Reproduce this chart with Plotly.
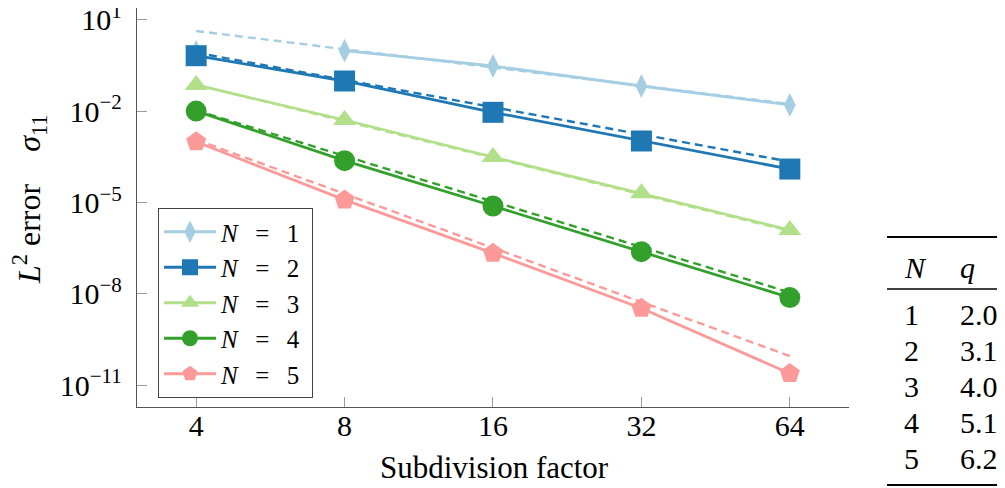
import plotly.graph_objects as go

# ---------------- data ----------------
subdiv = [4, 8, 16, 32, 64]
tick_x_labels = ["4", "8", "16", "32", "64"]

err_N1 = [0.891, 0.980, 0.308, 0.0679, 0.0162]
err_N2 = [0.671, 0.0991, 0.00927, 0.00106, 1.27e-4]
err_N3 = [0.0733, 0.00519, 3.16e-4, 2.04e-5, 1.26e-6]
err_N4 = [0.0102, 2.40e-4, 7.76e-6, 2.45e-7, 7.59e-9]
err_N5 = [1.0e-3, 1.23e-5, 2.19e-7, 3.39e-9, 2.45e-11]

# dashed fitted-rate lines: values at the first and last subdivision factor
fit_x = [4, 64]
fit_N1 = [4.36, 0.0174]
fit_N2 = [0.843, 2.22e-4]
fit_N3 = [0.0759, 1.17e-6]
fit_N4 = [0.0107, 1.12e-8]
fit_N5 = [1.17e-3, 9.1e-11]

y_tick_vals = [1e1, 1e-2, 1e-5, 1e-8, 1e-11]
y_tick_labels = ["10<sup>1</sup>", "10<sup>−2</sup>", "10<sup>−5</sup>",
                 "10<sup>−8</sup>", "10<sup>−11</sup>"]

table_N = ["1", "2", "3", "4", "5"]
table_q = ["2.0", "3.1", "4.0", "5.1", "6.2"]

series_labels = ["1", "2", "3", "4", "5"]

# ---------------- styling ----------------
FONT = "Liberation Serif, Times New Roman, serif"
FS = 30
LFS = 25
colors = ["#a6cee3", "#1f78b4", "#b2df8a", "#33a02c", "#fb9a99"]
symbols = ["diamond-tall", "square", "triangle-up", "circle", "pentagon"]
msizes = [17, 21, 20, 21, 21]
errs = [err_N1, err_N2, err_N3, err_N4, err_N5]
fits = [fit_N1, fit_N2, fit_N3, fit_N4, fit_N5]

# the page body has an 8px margin, so figure pixel = page pixel - 8
OFF = 8
W, H = 1005, 488
ML, MR, MT, MB = 137 - OFF, W - (849 - OFF), 0, H - (407 - OFF)
PW = W - ML - MR
PH = H - MT - MB


def px_x(page_px):
    return (page_px - OFF - ML) / PW


def px_y(page_py):
    return 1 - (page_py - OFF - MT) / PH


fig = go.Figure()

SP = "\u2002\u2009"  # en + thin space, to mimic the math spacing around "="

for i in range(5):
    c = colors[i]
    # dashed fitted line
    fig.add_trace(go.Scatter(
        x=fit_x, y=fits[i], mode="lines",
        line=dict(color=c, width=2.4, dash="8px,5px"),
        showlegend=False, hoverinfo="skip"))
    marker = dict(symbol=symbols[i], size=msizes[i], color=c,
                  line=dict(width=0))
    name = "<i>N</i>" + SP + "=" + SP + series_labels[i] + "\u2005"
    if i == 0:
        # N = 1: the first point is drawn without a connecting segment
        fig.add_trace(go.Scatter(
            x=subdiv[:1], y=errs[i][:1], mode="markers", marker=marker,
            showlegend=False, legendgroup=str(i)))
        fig.add_trace(go.Scatter(
            x=subdiv[1:], y=errs[i][1:], mode="lines+markers",
            line=dict(color=c, width=2.8), marker=marker,
            name=name, legendgroup=str(i)))
    else:
        fig.add_trace(go.Scatter(
            x=subdiv, y=errs[i], mode="lines+markers",
            line=dict(color=c, width=2.8), marker=marker,
            name=name, legendgroup=str(i)))

axis_common = dict(
    showgrid=False, zeroline=False, showline=True, linecolor="#555555",
    linewidth=1.3, ticks="inside", ticklen=10, tickcolor="#9a9a9a",
    tickwidth=1, tickfont=dict(family=FONT, size=FS, color="black"),
    automargin=False, ticklabeloverflow="allow",
)

fig.update_layout(
    width=W, height=H,
    margin=dict(l=ML, r=MR, t=MT, b=MB, pad=0),
    paper_bgcolor="white", plot_bgcolor="white",
    font=dict(family=FONT, size=FS, color="black"),
    xaxis=dict(type="log", range=[0.4821, 1.9262], tickvals=subdiv,
               ticktext=tick_x_labels, ticklabelstandoff=-8, **axis_common),
    yaxis=dict(type="log", range=[-11.713, 1.394], tickvals=y_tick_vals,
               ticktext=y_tick_labels, ticklabelstandoff=8, **axis_common),
    legend=dict(x=px_x(158), y=px_y(208), xanchor="left", yanchor="top",
                bgcolor="white", bordercolor="#444444", borderwidth=1,
                font=dict(family=FONT, size=LFS), tracegroupgap=0,
                itemwidth=52),
    showlegend=True,
)

annotations = []
# axis titles
annotations.append(dict(
    text="<i>L</i><sup>2</sup> error" + "\u2003" + "<i>σ</i><sub>11</sub>",
    xref="paper", yref="paper", x=px_x(29), y=px_y(199),
    textangle=-90, showarrow=False, xanchor="center", yanchor="middle",
    font=dict(family=FONT, size=32)))
annotations.append(dict(
    text="Subdivision factor",
    xref="paper", yref="paper", x=px_x(495), y=px_y(467),
    showarrow=False, xanchor="center", yanchor="middle",
    font=dict(family=FONT, size=31)))

# table on the right
col1_px, col2_px = 902, 958
header_py = 267
row_py = [314, 350, 386, 422, 458]
annotations.append(dict(text="<i>N</i>", xref="paper", yref="paper",
                        x=px_x(col1_px), y=px_y(header_py), showarrow=False,
                        xanchor="left", yanchor="middle",
                        font=dict(family=FONT, size=FS)))
annotations.append(dict(text="<i>q</i>", xref="paper", yref="paper",
                        x=px_x(col2_px), y=px_y(header_py), showarrow=False,
                        xanchor="left", yanchor="middle",
                        font=dict(family=FONT, size=FS)))
for n, q, py in zip(table_N, table_q, row_py):
    annotations.append(dict(text=n, xref="paper", yref="paper",
                            x=px_x(col1_px), y=px_y(py), showarrow=False,
                            xanchor="left", yanchor="middle",
                            font=dict(family=FONT, size=FS)))
    annotations.append(dict(text=q, xref="paper", yref="paper",
                            x=px_x(col2_px), y=px_y(py), showarrow=False,
                            xanchor="left", yanchor="middle",
                            font=dict(family=FONT, size=FS)))

shapes = []
for py, lw in [(237, 2.2), (289, 1.3), (485, 2.2)]:
    shapes.append(dict(type="line", xref="paper", yref="paper",
                       x0=px_x(887), x1=px_x(1013), y0=px_y(py), y1=px_y(py),
                       line=dict(color="black", width=lw)))

fig.update_layout(annotations=annotations, shapes=shapes)

fig.write_html("out.html")
